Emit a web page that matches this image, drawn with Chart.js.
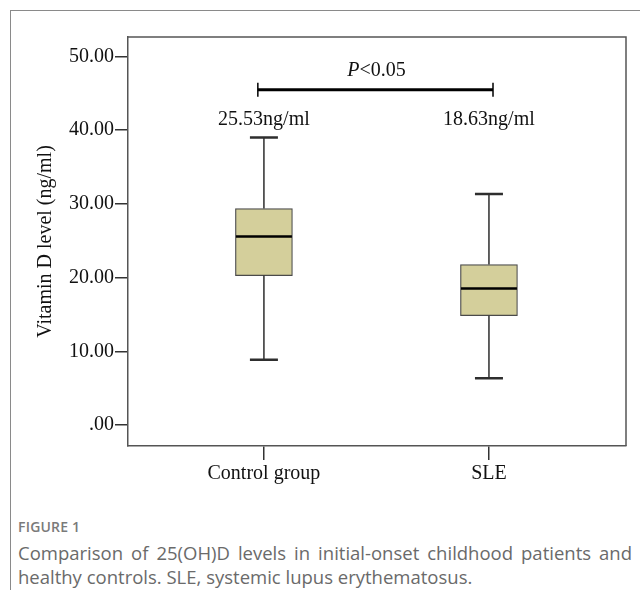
<!DOCTYPE html>
<html>
<head>
<meta charset="utf-8">
<script src="https://cdn.jsdelivr.net/npm/chart.js@4.4.1/dist/chart.umd.min.js"></script>
<style>
  html, body { margin: 0; padding: 0; background: #fff; }
  body { width: 640px; height: 590px; position: relative; overflow: hidden; }
  #frame {
    position: absolute; left: 10px; top: 10px; width: 700px; height: 700px;
    border: 1px solid #8a8a8a; box-sizing: border-box;
  }
  #chart { position: absolute; left: 0; top: 0; }
  #figlabel {
    position: absolute; left: 18px; top: 517px;
    font: 600 14px "Open Sans", sans-serif; color: #7a7a7a; letter-spacing: 0.2px;
  }
  #caption {
    position: absolute; left: 18px; top: 541px; width: 614px;
    font: 18.5px "Open Sans", sans-serif; line-height: 24px; color: #6a6a6a;
    text-align: justify;
  }
</style>
</head>
<body>
<div id="frame"></div>
<canvas id="chart" width="640" height="505"></canvas>
<div id="figlabel">FIGURE 1</div>
<div id="caption">Comparison of 25(OH)D levels in initial-onset childhood patients and healthy controls. SLE, systemic lupus erythematosus.</div>

<script>
// box plot values (ng/ml)
const groups = ["Control group", "SLE"];
const xPos = [1, 2];
const whiskerLow = [8.86, 6.34];
const q1 = [20.26, 14.83];
const medians = [25.55, 18.5];
const q3 = [29.35, 21.75];
const whiskerHigh = [38.98, 31.34];
const medianLabels = ["25.53ng/ml", "18.63ng/ml"];
const yTicks = [0, 10, 20, 30, 40, 50];

const serif = "'Liberation Serif', 'Times New Roman', serif";

// whiskers, medians, plot frame and the significance bracket
const boxExtras = {
  id: "boxExtras",
  afterDatasetsDraw(chart) {
    const ctx = chart.ctx;
    const x = chart.scales.x;
    const y = chart.scales.y;
    const area = chart.chartArea;
    ctx.save();

    xPos.forEach((v, i) => {
      const cx = x.getPixelForValue(v);
      ctx.strokeStyle = "#2e2e2e";
      ctx.lineWidth = 1.5;
      ctx.beginPath();
      ctx.moveTo(cx, y.getPixelForValue(q3[i]));
      ctx.lineTo(cx, y.getPixelForValue(whiskerHigh[i]));
      ctx.moveTo(cx, y.getPixelForValue(q1[i]));
      ctx.lineTo(cx, y.getPixelForValue(whiskerLow[i]));
      ctx.stroke();

      ctx.lineWidth = 2.5;
      ctx.beginPath();
      [whiskerHigh[i], whiskerLow[i]].forEach((w) => {
        const py = y.getPixelForValue(w);
        ctx.moveTo(cx - 14, py);
        ctx.lineTo(cx + 14, py);
      });
      ctx.stroke();

      ctx.strokeStyle = "#000";
      ctx.lineWidth = 2.5;
      ctx.beginPath();
      const my = y.getPixelForValue(medians[i]);
      ctx.moveTo(cx - 28, my);
      ctx.lineTo(cx + 28, my);
      ctx.stroke();

      ctx.fillStyle = "#111";
      ctx.font = "20px " + serif;
      ctx.textAlign = "center";
      ctx.textBaseline = "middle";
      ctx.fillText(medianLabels[i], cx, y.getPixelForValue(41.4));
    });

    // top and right edges of the plot box
    ctx.strokeStyle = "#555";
    ctx.lineWidth = 1.5;
    ctx.beginPath();
    ctx.moveTo(area.left, area.top);
    ctx.lineTo(area.right, area.top);
    ctx.lineTo(area.right, area.bottom);
    ctx.stroke();

    // significance bracket
    const bx1 = x.getPixelForValue(0.973);
    const bx2 = x.getPixelForValue(2.018);
    const by = y.getPixelForValue(45.45);
    ctx.strokeStyle = "#000";
    ctx.lineWidth = 3;
    ctx.beginPath();
    ctx.moveTo(bx1, by);
    ctx.lineTo(bx2, by);
    ctx.stroke();
    ctx.lineWidth = 1.5;
    ctx.beginPath();
    ctx.moveTo(bx1, by - 7);
    ctx.lineTo(bx1, by + 7);
    ctx.moveTo(bx2, by - 7);
    ctx.lineTo(bx2, by + 7);
    ctx.stroke();

    const px = x.getPixelForValue(1.5);
    const py = y.getPixelForValue(48.1);
    ctx.fillStyle = "#111";
    ctx.textBaseline = "middle";
    ctx.font = "italic 20px " + serif;
    const pW = ctx.measureText("P").width;
    ctx.font = "20px " + serif;
    const restW = ctx.measureText("<0.05").width;
    const startX = px - (pW + restW) / 2;
    ctx.textAlign = "left";
    ctx.font = "italic 20px " + serif;
    ctx.fillText("P", startX, py);
    ctx.font = "20px " + serif;
    ctx.fillText("<0.05", startX + pW, py);

    ctx.restore();
  },
};

const boxData = xPos.map((v, i) => ({ x: v, y: [q1[i], q3[i]] }));

new Chart(document.getElementById("chart"), {
  type: "bar",
  data: {
    datasets: [
      {
        data: boxData,
        backgroundColor: "#d4cf9b",
        borderColor: "#4a4a4a",
        borderWidth: 1.2,
        borderSkipped: false,
        barThickness: 57,
      },
    ],
  },
  options: {
    responsive: false,
    animation: false,
    devicePixelRatio: 1,
    layout: { padding: { left: 30, top: 37, right: 14, bottom: 0 } },
    plugins: { legend: { display: false }, tooltip: { enabled: false } },
    scales: {
      x: {
        type: "linear",
        min: 0.396,
        max: 2.609,
        offset: false,
        afterBuildTicks: (scale) => {
          scale.ticks = xPos.map((v) => ({ value: v }));
        },
        afterFit: (scale) => {
          scale.height = 59;
        },
        ticks: {
          callback: (value, index) => groups[index],
          font: { family: serif, size: 20 },
          color: "#111",
          padding: 2,
          maxRotation: 0,
        },
        grid: {
          offset: false,
          drawOnChartArea: false,
          drawTicks: true,
          tickLength: 14,
          color: "#333",
          lineWidth: 1.5,
        },
        border: { display: true, color: "#555", width: 1.5 },
      },
      y: {
        min: -2.85,
        max: 52.62,
        afterBuildTicks: (scale) => {
          scale.ticks = yTicks.map((v) => ({ value: v }));
        },
        afterFit: (scale) => {
          scale.width = 98;
        },
        ticks: {
          callback: (value) => (value === 0 ? ".00" : value.toFixed(2)),
          font: { family: serif, size: 20 },
          color: "#111",
          padding: 1,
        },
        grid: {
          drawOnChartArea: false,
          drawTicks: true,
          tickLength: 13,
          color: "#333",
          lineWidth: 1.5,
        },
        border: { display: true, color: "#555", width: 1.5 },
        title: {
          display: true,
          text: "Vitamin D level (ng/ml)",
          font: { family: serif, size: 20 },
          color: "#111",
          padding: { top: 4, bottom: 0 },
        },
      },
    },
  },
  plugins: [boxExtras],
});
</script>
</body>
</html>
